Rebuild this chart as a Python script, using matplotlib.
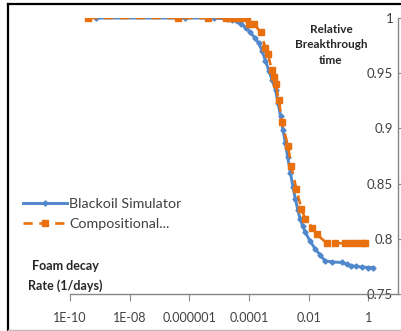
import matplotlib
matplotlib.use('Agg')
import matplotlib.pyplot as plt
from matplotlib.lines import Line2D

plt.rcParams['font.family'] = ['Lato', 'DejaVu Sans']

# foam decay rate (1/days) and relative breakthrough time
blackoil_x = [7.4e-10, 7.4e-7, 6.8e-6, 2.0e-5, 2.8e-5, 4.0e-5, 5.6e-5, 7.8e-5,
              1.12e-4, 1.58e-4, 2.14e-4, 2.8e-4, 3.6e-4, 4.7e-4, 6.0e-4, 7.8e-4,
              9.5e-4, 1.15e-3, 1.38e-3, 1.66e-3, 2.0e-3, 2.45e-3, 3.0e-3, 3.6e-3,
              4.4e-3, 5.2e-3, 6.3e-3, 7.8e-3, 1.12e-2, 1.66e-2, 2.5e-2, 3.6e-2,
              6.3e-2, 0.129, 0.2, 0.275, 0.4, 0.63, 1.0, 1.48]
blackoil_y = [1.0, 1.0, 1.0, 0.999, 0.998, 0.997, 0.995, 0.991,
              0.987, 0.982, 0.977, 0.970, 0.961, 0.952, 0.944, 0.935,
              0.923, 0.911, 0.899, 0.887, 0.874, 0.860, 0.847, 0.836,
              0.826, 0.818, 0.812, 0.806, 0.798, 0.791, 0.785, 0.780,
              0.779, 0.7786, 0.777, 0.7756, 0.775, 0.7745, 0.774, 0.774]

comp_x = [4.1e-10, 4.1e-7, 4.1e-6, 1.66e-5, 2.24e-5, 3.16e-5, 4.5e-5, 6.3e-5,
          8.7e-5, 1.0e-4, 1.48e-4, 2.45e-4, 3.6e-4, 4.4e-4, 5.8e-4, 6.8e-4,
          7.8e-4, 1.0e-3, 1.29e-3, 2.04e-3, 2.63e-3, 3.9e-3, 5.75e-3, 7.8e-3,
          1.35e-2, 1.9e-2, 4.1e-2, 7.8e-2, 0.166, 0.275, 0.41, 0.6, 0.78]
comp_y = [1.0, 1.0, 1.0, 1.0, 1.0, 1.0, 1.0, 1.0,
          1.0, 0.995, 0.995, 0.987, 0.973, 0.967, 0.953, 0.947,
          0.940, 0.926, 0.906, 0.884, 0.866, 0.845, 0.827, 0.818,
          0.810, 0.804, 0.796, 0.796, 0.796, 0.796, 0.796, 0.796, 0.796]

xticks = [1e-10, 1e-8, 1e-6, 1e-4, 1e-2, 1]
xtick_labels = ['1E-10', '1E-08', '0.000001', '0.0001', '0.01', '1']
yticks = [0.75, 0.8, 0.85, 0.9, 0.95, 1]
ytick_labels = ['0.75', '0.8', '0.85', '0.9', '0.95', '1']

blue = '#5088CB'
orange = '#E8700F'
axis_grey = '#868686'
text_col = '#404040'

fig = plt.figure(figsize=(4.01, 3.31), dpi=100)
ax = fig.add_axes([70 / 401, 37 / 331, 328 / 401, 276 / 331])

ax.plot(blackoil_x, blackoil_y, color=blue, lw=2.1, marker='D', ms=2.6,
        label='Blackoil Simulator', zorder=3)
ax.plot(comp_x, comp_y, color=orange, lw=1.9, dashes=(3.5, 2.5), marker='s',
        ms=5, label='Compositional...', zorder=4)

ax.set_xscale('log')
ax.set_xlim(1e-10, 10)
ax.set_ylim(0.75, 1.0)
ax.set_xticks(xticks)
ax.set_xticklabels(xtick_labels)
ax.xaxis.set_minor_locator(matplotlib.ticker.NullLocator())
ax.set_yticks(yticks)
ax.set_yticklabels(ytick_labels)

for s in ['left', 'top']:
    ax.spines[s].set_visible(False)
for s in ['bottom', 'right']:
    ax.spines[s].set_color(axis_grey)
    ax.spines[s].set_linewidth(1)

ax.yaxis.set_ticks_position('right')
ax.tick_params(axis='x', direction='out', length=5, color=axis_grey,
               labelsize=9, labelcolor=text_col, pad=8)
ax.tick_params(axis='y', direction='out', length=4, color=axis_grey,
               labelsize=9.5, labelcolor=text_col, right=True, labelright=True,
               left=False, labelleft=False, pad=-7.5)
for lbl in ax.get_yticklabels():
    lbl.set_ha('right')

fig.text(331 / 401, 1 - 45 / 331, 'Relative\nBreakthrough\ntime', ha='center',
         va='center', fontsize=8.5, fontweight='bold', color='#262626',
         linespacing=1.45)
fig.text(65 / 401, 1 - 276 / 331, 'Foam decay\nRate (1/days)', ha='center',
         va='center', fontsize=9, fontweight='bold', color='#262626',
         linespacing=1.6)

ax.legend(loc='upper left', bbox_to_anchor=(23 / 401, 1 - 198 / 331),
          bbox_transform=fig.transFigure, frameon=False, borderpad=0,
          borderaxespad=0, fontsize=10.3, handlelength=3.1, handletextpad=0.15,
          labelspacing=0.55, labelcolor=text_col)

# chart frame
fig.add_artist(Line2D([8 / 401, 1], [1 - 3.5 / 331] * 2, color='black', lw=1.6,
                      transform=fig.transFigure))
fig.add_artist(Line2D([8 / 401] * 2, [0, 1 - 3.5 / 331], color='black', lw=1.6,
                      transform=fig.transFigure))
fig.add_artist(Line2D([8 / 401, 1], [1.5 / 331] * 2, color='#BBBBBB', lw=1,
                      transform=fig.transFigure))

fig.savefig('out.png', dpi=100)
